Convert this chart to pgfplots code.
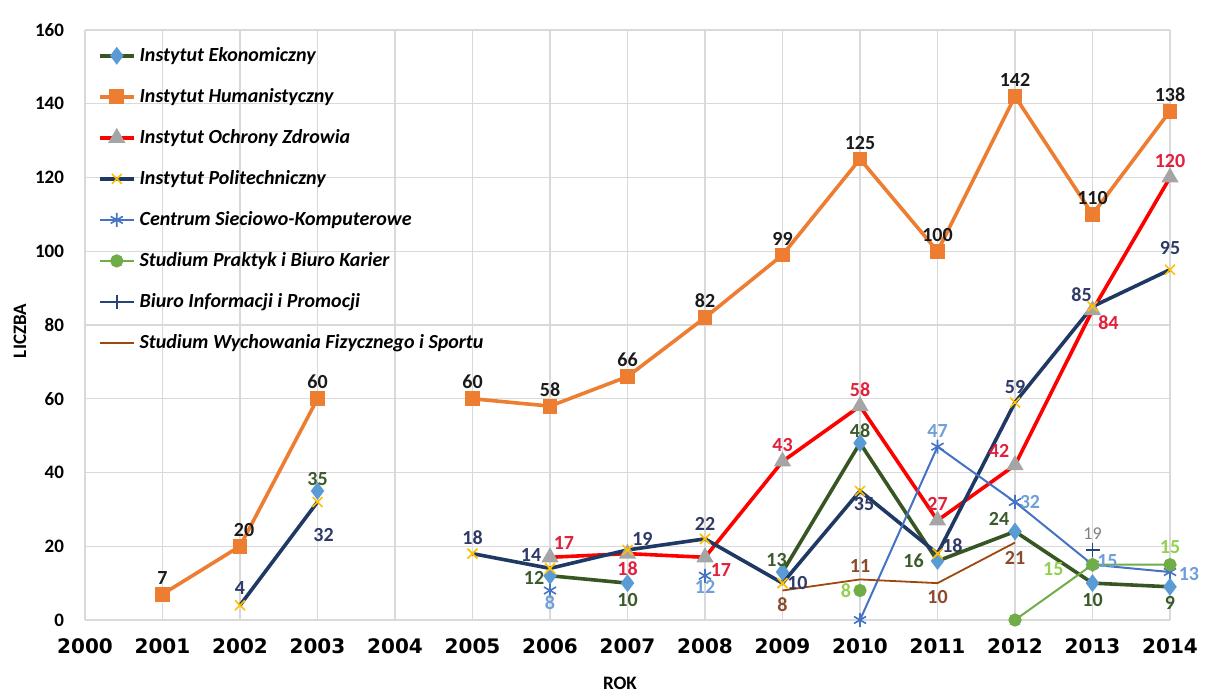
\documentclass[border=0pt]{standalone}
\usepackage{fontspec}
\setmainfont{Carlito}
\newfontfamily\dejavu{DejaVu Sans}
\usepackage{pgfplots}
\pgfplotsset{compat=1.18}

\definecolor{ekoLine}{HTML}{375623}
\definecolor{ekoMark}{HTML}{5B9BD5}
\definecolor{humOrange}{HTML}{ED7D31}
\definecolor{zdrRed}{HTML}{FF0000}
\definecolor{zdrMark}{HTML}{A5A5A5}
\definecolor{polNavy}{HTML}{1F3864}
\definecolor{polMark}{HTML}{FFC000}
\definecolor{csBlue}{HTML}{4472C4}
\definecolor{spGreen}{HTML}{70AD47}
\definecolor{biNavy}{HTML}{264478}
\definecolor{swBrown}{HTML}{9E480E}
\definecolor{gridgray}{HTML}{D9D9D9}
\definecolor{labBlack}{HTML}{1A1A1A}
\definecolor{labEko}{HTML}{3B5A2A}
\definecolor{labRed}{HTML}{E0203C}
\definecolor{labNavy}{HTML}{2F3B66}
\definecolor{labBlue}{HTML}{6F9FD8}
\definecolor{labGreen}{HTML}{92D050}
\definecolor{labGray}{HTML}{808080}
\definecolor{labBrown}{HTML}{8B4A2B}

\begin{document}
\begin{tikzpicture}
\begin{axis}[
  scale only axis,
  width=542.5pt, height=295pt,
  xmin=2000, xmax=2014, ymin=0, ymax=160,
  xtick={2000,2001,...,2014}, ytick={0,20,...,160},
  grid=major, grid style={gridgray, line width=0.6pt},
  axis line style={draw=none},
  major tick length=0pt,
  /pgf/number format/assume math mode=true,
  /pgf/number format/1000 sep={},
  xticklabel style={font=\dejavu\bfseries\fontsize{10}{12}\selectfont, yshift=-6pt},
  yticklabel style={font=\bfseries\fontsize{9.5}{11}\selectfont, xshift=-7pt},
  xlabel={ROK}, ylabel={LICZBA},
  xlabel style={font=\bfseries\fontsize{9.5}{11}\selectfont,
    at={(axis description cs:0.493,0)}, anchor=center, yshift=-31.5pt},
  ylabel style={font=\bfseries\fontsize{9.5}{11}\selectfont,
    at={(axis description cs:-0.06,0.49)}, anchor=center},
  unbounded coords=jump,
  legend style={at={(0.006,0.985)}, anchor=north west, draw=none, fill=none,
    font=\bfseries\itshape\fontsize{10}{12}\selectfont, row sep=8pt},
  legend cell align=left,
  nodes near coords,
  point meta=explicit symbolic,
  visualization depends on={value \thisrow{a} \as \lblanchor},
  visualization depends on={\thisrow{dx} \as \lbldx},
  visualization depends on={\thisrow{dy} \as \lbldy},
  nodes near coords style={anchor=\lblanchor, inner sep=2pt,
    xshift=\lbldx pt, yshift=\lbldy pt,
    font=\bfseries\fontsize{10}{12}\selectfont},
]

% Instytut Ekonomiczny
\addplot[ekoLine, line width=1.8pt, mark=diamond*, mark size=3pt,
  mark options={ekoMark, draw=ekoMark, fill=ekoMark},
  every node near coord/.append style={text=labEko}]
  table[x=x, y=y, meta=l] {
x y l a dx dy
2003 35 35 south 0 0
2004 nan {} south 0 0
2006 12 12 east 0 -1
2007 10 10 north 0 -2
2008 nan {} south 0 0
2009 13 13 south -3 0
2010 48 48 south 0 0
2011 16 16 east -4 0
2012 24 24 {south east} 0 0
2013 10 10 north 0 -2
2014 9 9 north 0 -2
};

% Instytut Humanistyczny
\addplot[humOrange, line width=1.8pt, mark=square*, mark size=2.8pt,
  mark options={humOrange, fill=humOrange},
  every node near coord/.append style={text=labBlack}]
  table[x=x, y=y, meta=l] {
x y l a dx dy
2001 7 7 south 0 2
2002 20 20 south 2 2
2003 60 60 south 0 2
2004 nan {} south 0 0
2005 60 60 south 0 2
2006 58 58 south 0 2
2007 66 66 south 0 2
2008 82 82 south 0 2
2009 99 99 south 0 2
2010 125 125 south 0 2
2011 100 100 south 0 2
2012 142 142 south 0 2
2013 110 110 south 0 2
2014 138 138 south 0 2
};

% Instytut Ochrony Zdrowia
\addplot[zdrRed, line width=1.8pt, mark=triangle*, mark size=3.2pt,
  mark options={zdrMark, fill=zdrMark},
  every node near coord/.append style={text=labRed}]
  table[x=x, y=y, meta=l] {
x y l a dx dy
2006 17 17 {south west} -1 1
2007 18 18 north 0 -1
2008 17 17 {north west} 0 0
2009 43 43 south 0 2
2010 58 58 south 0 2
2011 27 27 south 0 2
2012 42 42 {south east} 0 1
2013 84 84 {north west} 0 0
2014 120 120 south 0 2
};

% Instytut Politechniczny
\addplot[polNavy, line width=1.8pt, mark=x, mark size=3.5pt,
  mark options={polMark, line width=0.8pt},
  every node near coord/.append style={text=labNavy}]
  table[x=x, y=y, meta=l] {
x y l a dx dy
2002 4 4 south 0 3
2003 32 32 north 3 -11
2004 nan {} south 0 0
2005 18 18 south 0 2
2006 14 14 {south east} -2 1
2007 19 19 {south west} 0 0
2008 22 22 south 0 2
2009 10 10 west 0 0
2010 35 35 north 2 -1
2011 18 18 {south west} 0 -2
2012 59 59 south 0 2
2013 85 85 {south east} 2 0
2014 95 95 south 0 5
};

% Centrum Sieciowo-Komputerowe
\addplot[csBlue, line width=1pt, mark=asterisk, mark size=3.5pt,
  mark options={csBlue, line width=0.8pt},
  every node near coord/.append style={text=labBlue}]
  table[x=x, y=y, meta=l] {
x y l a dx dy
2006 8 8 north 0 0
2007 nan {} south 0 0
2008 12 12 north 0 0
2009 nan {} south 0 0
2010 0 {} south 0 0
2011 47 47 south 0 2
2012 32 32 west 0 0
2013 15 15 {south west} 0 -4
2014 13 13 west 2 -1
};

% Studium Praktyk i Biuro Karier
\addplot[spGreen, line width=1pt, mark=*, mark size=2.8pt,
  mark options={spGreen, fill=spGreen},
  every node near coord/.append style={text=labGreen}]
  table[x=x, y=y, meta=l] {
x y l a dx dy
2010 8 8 east -2 0
2011 nan {} south 0 0
2012 0 {} south 0 0
2013 15 15 east -12 -2
2014 15 15 south 0 3
};

% Biuro Informacji i Promocji
\addplot[biNavy, line width=1pt, mark=+, mark size=3.5pt,
  mark options={biNavy, line width=0.8pt},
  every node near coord/.append style={text=labGray, font=\fontsize{9}{11}\selectfont}]
  table[x=x, y=y, meta=l] {
x y l a dx dy
2013 19 19 south 0 3
};

% Studium Wychowania Fizycznego i Sportu
\addplot[swBrown, line width=0.9pt, mark=none,
  every node near coord/.append style={text=labBrown}]
  table[x=x, y=y, meta=l] {
x y l a dx dy
2009 8 8 north 0 -1
2010 11 11 south 0 1
2011 10 10 north 0 -1
2012 21 21 north 0 -2
};

\legend{Instytut Ekonomiczny, Instytut Humanistyczny, Instytut Ochrony Zdrowia,
  Instytut Politechniczny, Centrum Sieciowo-Komputerowe,
  Studium Praktyk i Biuro Karier, Biuro Informacji i Promocji,
  Studium Wychowania Fizycznego i Sportu}
\end{axis}
\pgfresetboundingbox
\path (-42.5pt,-35.5pt) rectangle (560pt,310pt);
\end{tikzpicture}
\end{document}
